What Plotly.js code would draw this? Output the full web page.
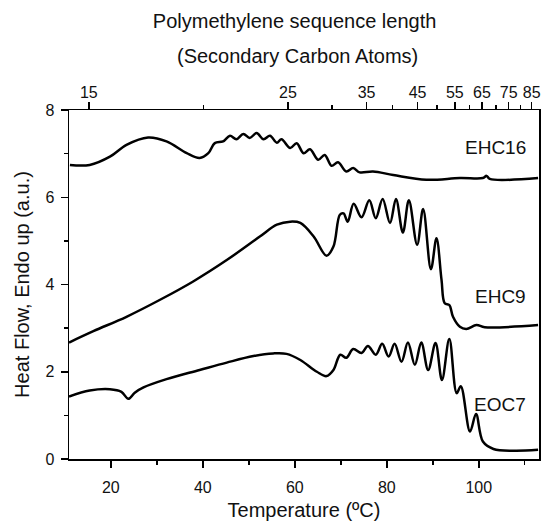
<!DOCTYPE html>
<html>
<head>
<meta charset="utf-8">
<script src="https://cdn.plot.ly/plotly-3.0.1.min.js"></script>
<style>html,body{margin:0;padding:0;background:#fff}#chart{width:542px;height:521px}</style>
</head>
<body>
<div id="chart"></div>
<script>
// Temperature (°C) and heat flow (a.u.)
const ehc16T = [11.1, 15.4, 19.8, 23.4, 28.1, 32.1, 36.5, 39.3, 41.2, 42.6, 44.4,
  45.9, 47.3, 48.8, 50.2, 51.7, 53.2, 54.6, 56.1, 57.1, 59.0, 60.4, 61.9, 63.3, 65.1,
  66.5, 68.0, 69.4, 71.2, 72.7, 74.1, 77.0, 81.4, 88.6, 95.9, 100.9, 101.7, 102.4, 112.9];
const ehc16Y = [6.74, 6.74, 6.93, 7.20, 7.37, 7.28, 7.01, 6.90, 7.01, 7.24, 7.28,
  7.41, 7.33, 7.45, 7.36, 7.47, 7.33, 7.41, 7.25, 7.33, 7.13, 7.24, 7.01, 7.10, 6.86,
  6.97, 6.72, 6.80, 6.59, 6.67, 6.57, 6.59, 6.51, 6.40, 6.44, 6.44, 6.49, 6.42, 6.44];

const ehc9T = [10.9, 16.2, 23.4, 30.7, 37.9, 45.2, 52.4, 56.1, 59.0, 61.2, 64.1, 66.9,
  68.4, 69.8, 70.6, 71.5, 72.8, 74.5, 76.2, 77.6, 79.1, 80.7, 82.0, 83.5, 84.8, 86.6,
  87.9, 89.6, 90.8, 91.9, 92.6, 93.6, 94.4, 95.9, 97.3, 99.5, 101.3, 112.9];
const ehc9Y = [2.67, 2.93, 3.26, 3.65, 4.07, 4.56, 5.10, 5.37, 5.44, 5.41, 5.10, 4.66,
  4.87, 5.60, 5.63, 5.44, 5.85, 5.54, 5.93, 5.52, 5.96, 5.41, 5.96, 5.19, 5.93, 4.91,
  5.73, 4.35, 5.06, 4.11, 3.57, 3.53, 3.26, 3.03, 2.98, 3.07, 3.02, 3.07];

const eoc7T = [10.9, 15.4, 19.8, 22.3, 23.8, 25.2, 27.1, 32.1, 39.3, 45.2, 51.0, 55.3,
  58.2, 61.2, 64.8, 66.9, 68.4, 69.9, 71.2, 72.7, 74.5, 75.9, 77.6, 79.0, 80.4, 81.7,
  83.2, 84.6, 86.1, 87.5, 89.0, 90.6, 92.0, 93.6, 95.2, 96.1, 98.1, 99.4, 100.9, 103.2,
  107.6, 112.9];
const eoc7Y = [1.43, 1.57, 1.60, 1.54, 1.38, 1.52, 1.64, 1.83, 2.04, 2.21, 2.36, 2.42,
  2.41, 2.27, 2.00, 1.90, 2.04, 2.39, 2.32, 2.52, 2.43, 2.59, 2.39, 2.64, 2.35, 2.64,
  2.23, 2.67, 2.16, 2.67, 2.04, 2.66, 1.81, 2.75, 1.51, 1.67, 0.63, 1.03, 0.40, 0.23,
  0.19, 0.21];

const seriesNames = ['EHC16', 'EHC9', 'EOC7'];
const labelY = [7.13, 3.72, 1.26];

// Top axis: polymethylene sequence length, placed at the matching temperature
const topTickLabels = ['15', '25', '35', '45', '55', '65', '75', '85'];
const topTickTemps = [15.2, 58.5, 75.6, 86.7, 94.8, 100.7, 106.5, 111.5];
const topMinorLabels = [20, 30, 40, 50, 60, 70, 80];
const topMinorTemps = [40.1, 68.1, 81.2, 90.9, 98.0, 103.7, 109.1];

const xRange = [10.9, 113.1];
const FONT = 'Liberation Sans, Arial, Helvetica, sans-serif';

const lineStyle = {color: '#000', width: 2.5, shape: 'spline', smoothing: 1};
const traces = [
  {x: ehc16T, y: ehc16Y, name: seriesNames[0]},
  {x: ehc9T, y: ehc9Y, name: seriesNames[1]},
  {x: eoc7T, y: eoc7Y, name: seriesNames[2]}
].map(t => Object.assign(t, {type: 'scatter', mode: 'lines', line: lineStyle, hoverinfo: 'x+y'}));
// a transparent copy bound to the top axis so that Plotly draws it
traces.push({type: 'scatter', mode: 'lines', x: ehc16T, y: ehc16Y, xaxis: 'x2', yaxis: 'y',
  line: {color: 'rgba(0,0,0,0)', width: 0}, hoverinfo: 'skip', showlegend: false});

const labelX = 110.7;
const annotations = seriesNames.map((n, i) => ({
  x: labelX, y: labelY[i], xref: 'x', yref: 'y', text: n, showarrow: false,
  xanchor: 'right', yanchor: 'middle', font: {family: FONT, size: 19, color: '#111'}
}));
annotations.push({
  text: '(Secondary Carbon Atoms)', xref: 'paper', yref: 'paper',
  x: 0.487, y: 1 + (110 - 56) / 349, xanchor: 'center', yanchor: 'middle',
  showarrow: false, font: {family: FONT, size: 20, color: '#111'}
});

const axisLine = {showline: true, linecolor: '#000', linewidth: 1.5};
const tickStyle = {ticks: 'outside', ticklen: 7, tickwidth: 1.5, tickcolor: '#000'};
const minorStyle = {ticks: 'outside', ticklen: 4, tickwidth: 1.5, tickcolor: '#000', showgrid: false};

const layout = {
  width: 542, height: 521,
  margin: {l: 69, r: 3, t: 110, b: 62},
  paper_bgcolor: '#fff', plot_bgcolor: '#fff',
  showlegend: false,
  font: {family: FONT, color: '#111'},
  title: {
    text: 'Polymethylene sequence length',
    font: {family: FONT, size: 20, color: '#111'},
    xref: 'paper', x: 0.48, xanchor: 'center',
    yref: 'container', y: 1 - 21 / 521, yanchor: 'middle'
  },
  xaxis: Object.assign({
    range: xRange, showgrid: false, zeroline: false,
    tickmode: 'array', tickvals: [20, 40, 60, 80, 100],
    minor: Object.assign({tickmode: 'array', tickvals: [30, 50, 70, 90, 110]}, minorStyle),
    tickfont: {family: FONT, size: 16, color: '#111'}, ticklabelstandoff: 6,
    title: {text: 'Temperature (ºC)', font: {family: FONT, size: 20, color: '#111'}, standoff: 8}
  }, axisLine, tickStyle),
  xaxis2: Object.assign({
    overlaying: 'x', side: 'top', anchor: 'y', range: xRange,
    showgrid: false, zeroline: false,
    tickmode: 'array', tickvals: topTickTemps, ticktext: topTickLabels,
    minor: Object.assign({tickmode: 'array', tickvals: topMinorTemps}, minorStyle),
    tickfont: {family: FONT, size: 16, color: '#111'}, ticklabelstandoff: -3
  }, axisLine, tickStyle),
  yaxis: Object.assign({
    range: [0, 8], showgrid: false, zeroline: false, mirror: true,
    tickmode: 'array', tickvals: [0, 2, 4, 6, 8],
    minor: Object.assign({tickmode: 'array', tickvals: [1, 3, 5, 7]}, minorStyle),
    tickfont: {family: FONT, size: 16, color: '#111'}, ticklabelstandoff: 3,
    title: {text: 'Heat Flow, Endo up (a.u.)', font: {family: FONT, size: 20, color: '#111'}, standoff: 10}
  }, axisLine, tickStyle),
  annotations: annotations
};

Plotly.newPlot('chart', traces, layout, {displayModeBar: false, staticPlot: true});
</script>
</body>
</html>
